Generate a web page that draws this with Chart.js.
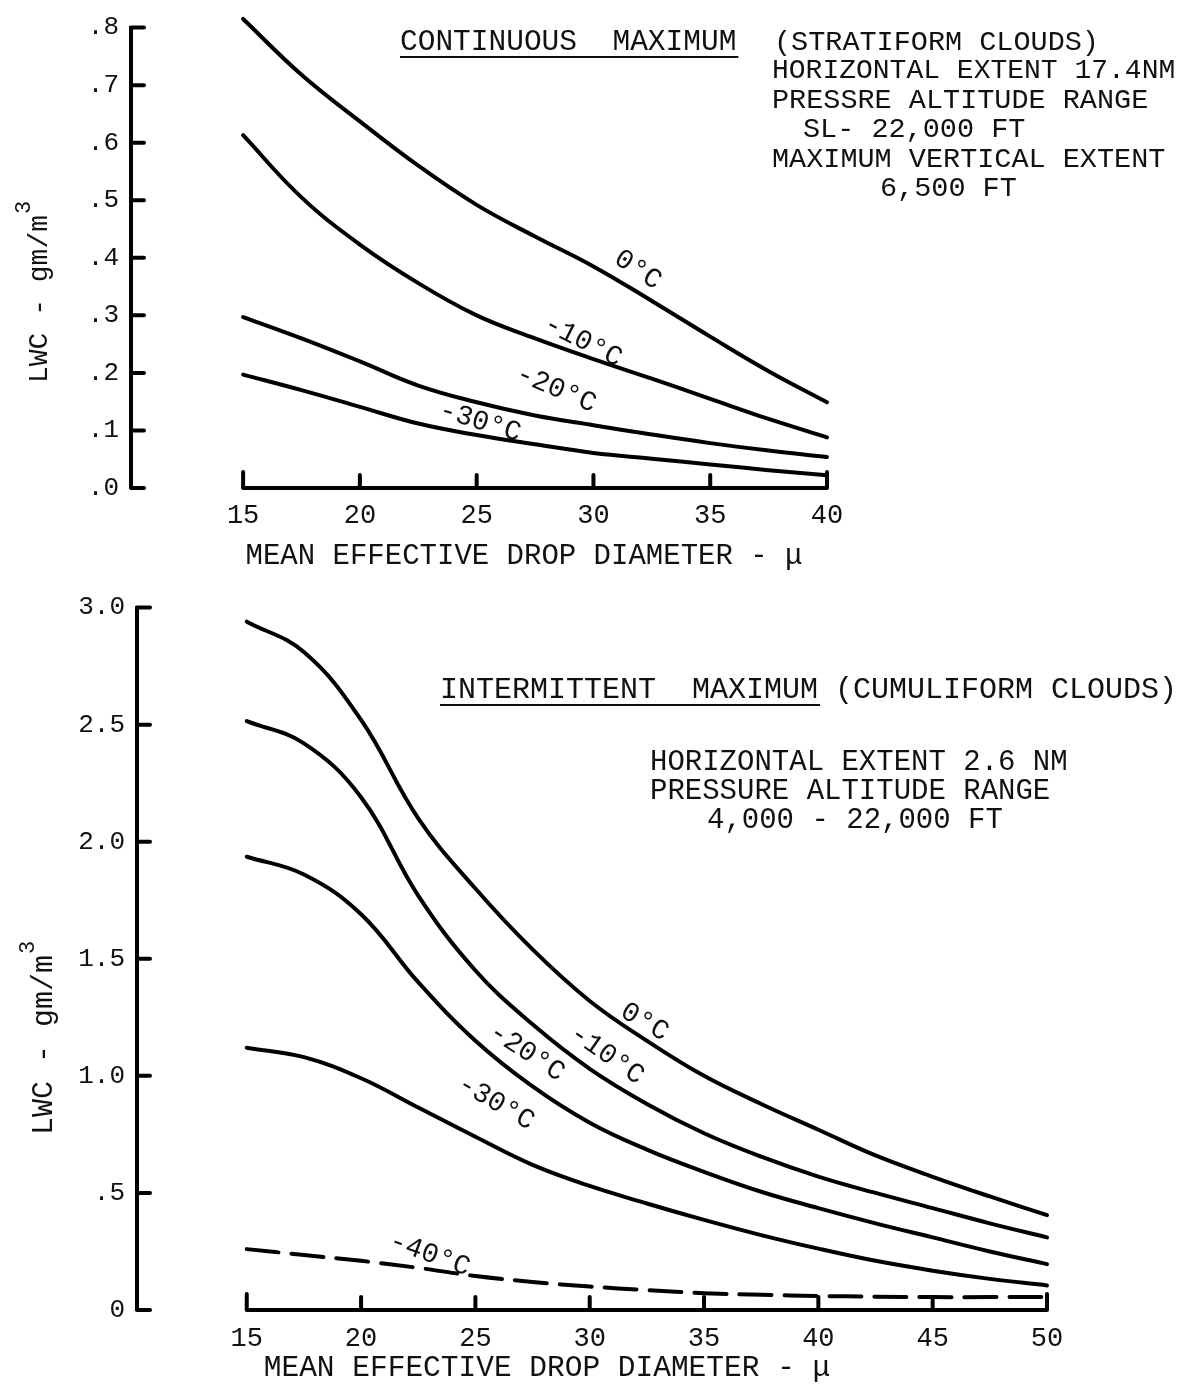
<!DOCTYPE html>
<html>
<head>
<meta charset="utf-8">
<title>LWC vs mean effective drop diameter</title>
<script src="https://cdn.jsdelivr.net/npm/chart.js@4.4.0/dist/chart.umd.min.js"></script>
<style>
  html, body { margin: 0; padding: 0; background: #fff; }
  #wrap { position: relative; width: 1204px; height: 1385px; overflow: hidden; }
  #contChart { position: absolute; left: 0; top: 0; }
  #intChart { position: absolute; left: 0; top: 580px; }
</style>
</head>
<body>
<div id="wrap">
  <canvas id="contChart" width="1204" height="580"></canvas>
  <canvas id="intChart" width="1204" height="805"></canvas>
</div>
<script>
// ---- data: continuous maximum (stratiform clouds) ----
const contDiameters = [15, 17.5, 20, 22.5, 25, 27.5, 30, 32.5, 35, 37.5, 40];
const cont0   = [0.815, 0.718, 0.637, 0.56, 0.492, 0.437, 0.385, 0.325, 0.263, 0.203, 0.149];
const contM10 = [0.613, 0.505, 0.423, 0.356, 0.30, 0.26, 0.224, 0.19, 0.155, 0.12, 0.088];
const contM20 = [0.297, 0.26, 0.22, 0.178, 0.149, 0.126, 0.109, 0.093, 0.078, 0.065, 0.054];
const contM30 = [0.197, 0.17, 0.141, 0.112, 0.092, 0.076, 0.061, 0.051, 0.041, 0.031, 0.022];
const contXTicks = [15, 20, 25, 30, 35, 40];
const contYTicks = [0, 0.1, 0.2, 0.3, 0.4, 0.5, 0.6, 0.7, 0.8];
const contYLabels = ['.0', '.1', '.2', '.3', '.4', '.5', '.6', '.7', '.8'];

// ---- data: intermittent maximum (cumuliform clouds) ----
const intDiameters = [15, 17.5, 20, 22.5, 25, 27.5, 30, 32.5, 35, 37.5, 40, 42.5, 45, 47.5, 50];
const int0   = [2.94, 2.81, 2.52, 2.10, 1.80, 1.54, 1.32, 1.15, 1.0, 0.88, 0.77, 0.66, 0.569, 0.485, 0.405];
const intM10 = [2.515, 2.42, 2.19, 1.77, 1.45, 1.22, 1.03, 0.88, 0.755, 0.655, 0.57, 0.50, 0.435, 0.37, 0.31];
const intM20 = [1.936, 1.86, 1.69, 1.40, 1.15, 0.955, 0.80, 0.685, 0.59, 0.505, 0.435, 0.37, 0.31, 0.25, 0.196];
const intM30 = [1.12, 1.08, 0.99, 0.865, 0.74, 0.62, 0.53, 0.455, 0.385, 0.32, 0.262, 0.21, 0.168, 0.133, 0.105];
const intM40 = [0.26, 0.235, 0.21, 0.18, 0.145, 0.12, 0.10, 0.085, 0.072, 0.065, 0.06, 0.057, 0.055, 0.055, 0.055];
const intXTicks = [15, 20, 25, 30, 35, 40, 45, 50];
const intYTicks = [0, 0.5, 1.0, 1.5, 2.0, 2.5, 3.0];
const intYLabels = ['0', '.5', '1.0', '1.5', '2.0', '2.5', '3.0'];

const X_MIN = 10.2;
const FONT = '"Liberation Mono", "Courier New", monospace';
const INK = '#111';

const pairs = (xs, ys) => xs.map((x, i) => ({ x: x, y: ys[i] }));

// x axis drawn as a bracket between first and last tick, ticks pointing inward
const bracketAxes = {
  id: 'bracketAxes',
  afterDraw(chart, args, opts) {
    const { ctx, chartArea } = chart;
    const x = chart.scales.x, y = chart.scales.y;
    const y0 = y.getPixelForValue(0);
    const xs = opts.xTicks;
    const xa = x.getPixelForValue(xs[0]);
    const xb = x.getPixelForValue(xs[xs.length - 1]);
    ctx.save();
    ctx.strokeStyle = '#000';
    ctx.lineWidth = 4;
    ctx.lineCap = 'round';
    ctx.lineJoin = 'round';
    ctx.beginPath();
    ctx.moveTo(xa, y0 - opts.hook);
    ctx.lineTo(xa, y0);
    ctx.lineTo(xb, y0);
    ctx.lineTo(xb, y0 - opts.hook);
    xs.slice(1, -1).forEach(v => {
      const px = x.getPixelForValue(v);
      ctx.moveTo(px, y0);
      ctx.lineTo(px, y0 - opts.tick);
    });
    opts.yTicks.forEach(v => {
      const py = y.getPixelForValue(v);
      ctx.moveTo(chartArea.left, py);
      ctx.lineTo(chartArea.left + opts.tick, py);
    });
    ctx.stroke();
    ctx.restore();
  }
};

// temperature labels written along the curves
const curveLabels = {
  id: 'curveLabels',
  afterDatasetsDraw(chart, args, opts) {
    const { ctx } = chart;
    ctx.save();
    ctx.fillStyle = INK;
    ctx.font = '28px ' + FONT;
    ctx.textAlign = 'center';
    ctx.textBaseline = 'middle';
    opts.items.forEach(it => {
      ctx.save();
      ctx.translate(chart.scales.x.getPixelForValue(it.x), chart.scales.y.getPixelForValue(it.y));
      ctx.rotate(it.rot * Math.PI / 180);
      ctx.fillText(it.text, 0, 0);
      ctx.restore();
    });
    ctx.restore();
  }
};

// notes, axis titles
const panelText = {
  id: 'panelText',
  afterDraw(chart, args, opts) {
    const { ctx } = chart;
    ctx.save();
    ctx.fillStyle = INK;
    ctx.strokeStyle = INK;
    ctx.textBaseline = 'middle';
    ctx.textAlign = 'left';
    opts.notes.forEach(n => {
      ctx.font = n.size + 'px ' + FONT;
      ctx.fillText(n.text, n.x, n.y);
      if (n.underline) {
        const w = ctx.measureText(n.text).width;
        ctx.lineWidth = 2;
        ctx.beginPath();
        ctx.moveTo(n.x, n.y + 15);
        ctx.lineTo(n.x + w + 2, n.y + 15);
        ctx.stroke();
      }
    });
    // x title
    ctx.textAlign = 'center';
    ctx.font = opts.xTitle.size + 'px ' + FONT;
    ctx.fillText('MEAN EFFECTIVE DROP DIAMETER - \u03BC', opts.xTitle.x, opts.xTitle.y);
    // y title with superscript 3
    const main = 'LWC - gm/m';
    ctx.save();
    ctx.translate(opts.yTitle.x, opts.yTitle.y);
    ctx.rotate(-Math.PI / 2);
    ctx.textAlign = 'left';
    ctx.font = opts.yTitle.size + 'px ' + FONT;
    const wMain = ctx.measureText(main).width;
    const start = -(wMain + 14) / 2;
    ctx.fillText(main, start, 0);
    ctx.font = '22px ' + FONT;
    ctx.fillText('3', start + wMain + 1, -16);
    ctx.restore();
    ctx.restore();
  }
};

function lineSet(label, xs, ys, dash) {
  return {
    label: label,
    data: pairs(xs, ys),
    borderColor: '#000',
    borderWidth: 4,
    borderDash: dash || [],
    pointRadius: 0,
    tension: 0.4,
    borderCapStyle: 'round',
    clip: false
  };
}

function buildOptions(cfg) {
  return {
    responsive: false,
    animation: false,
    layout: { padding: cfg.padding },
    plugins: {
      legend: { display: false },
      tooltip: { enabled: false },
      bracketAxes: { xTicks: cfg.xTicks, yTicks: cfg.yTicks, tick: 13, hook: 16 },
      curveLabels: { items: cfg.labels },
      panelText: { notes: cfg.notes, xTitle: cfg.xTitle, yTitle: cfg.yTitle }
    },
    scales: {
      x: {
        type: 'linear',
        min: X_MIN,
        max: cfg.xTicks[cfg.xTicks.length - 1],
        afterFit: s => { s.height = cfg.xAxisHeight; },
        afterBuildTicks: s => { s.ticks = cfg.xTicks.map(v => ({ value: v })); },
        grid: { display: false, drawTicks: false },
        border: { display: false },
        ticks: {
          autoSkip: false, maxRotation: 0, padding: cfg.xTickPad, color: INK,
          font: { family: FONT, size: 27 },
          callback: v => String(v)
        }
      },
      y: {
        min: 0,
        max: cfg.yTicks[cfg.yTicks.length - 1],
        afterFit: s => { s.width = cfg.yAxisWidth; },
        afterBuildTicks: s => { s.ticks = cfg.yTicks.map(v => ({ value: v })); },
        grid: { display: false, drawTicks: false },
        border: { display: true, width: 4, color: '#000' },
        ticks: {
          padding: 12, color: INK,
          font: { family: FONT, size: 26 },
          callback: (v, i) => cfg.yLabels[i]
        }
      }
    }
  };
}

new Chart(document.getElementById('contChart'), {
  type: 'line',
  data: {
    datasets: [
      lineSet('0°C', contDiameters, cont0),
      lineSet('-10°C', contDiameters, contM10),
      lineSet('-20°C', contDiameters, contM20),
      lineSet('-30°C', contDiameters, contM30)
    ]
  },
  options: buildOptions({
    padding: { left: 0, top: 17, right: 377, bottom: 0 },
    xAxisHeight: 92, xTickPad: 12, yAxisWidth: 131,
    xTicks: contXTicks, yTicks: contYTicks, yLabels: contYLabels,
    labels: [
      { text: '0°C', x: 31.9, y: 0.379, rot: 33 },
      { text: '-10°C', x: 29.55, y: 0.255, rot: 27 },
      { text: '-20°C', x: 28.4, y: 0.172, rot: 23 },
      { text: '-30°C', x: 25.15, y: 0.115, rot: 17 }
    ],
    notes: [
      { text: 'CONTINUOUS  MAXIMUM', x: 400, y: 42, size: 29.5, underline: true },
      { text: '(STRATIFORM CLOUDS)', x: 774, y: 42, size: 28.5 },
      { text: 'HORIZONTAL EXTENT 17.4NM', x: 772, y: 71, size: 28 },
      { text: 'PRESSRE ALTITUDE RANGE', x: 772, y: 100, size: 28.5 },
      { text: 'SL- 22,000 FT', x: 803, y: 129, size: 28.5 },
      { text: 'MAXIMUM VERTICAL EXTENT', x: 772, y: 159, size: 28.5 },
      { text: '6,500 FT', x: 880, y: 188, size: 28.5 }
    ],
    xTitle: { x: 524, y: 556, size: 29 },
    yTitle: { x: 40, y: 292, size: 28 }
  }),
  plugins: [bracketAxes, curveLabels, panelText]
});

new Chart(document.getElementById('intChart'), {
  type: 'line',
  data: {
    datasets: [
      lineSet('0°C', intDiameters, int0),
      lineSet('-10°C', intDiameters, intM10),
      lineSet('-20°C', intDiameters, intM20),
      lineSet('-30°C', intDiameters, intM30),
      lineSet('-40°C', intDiameters, intM40, [32, 13])
    ]
  },
  options: buildOptions({
    padding: { left: 0, top: 23, right: 157, bottom: 0 },
    xAxisHeight: 75, xTickPad: 13, yAxisWidth: 137,
    xTicks: intXTicks, yTicks: intYTicks, yLabels: intYLabels,
    labels: [
      { text: '0°C', x: 32.4, y: 1.23, rot: 30 },
      { text: '-10°C', x: 30.75, y: 1.09, rot: 35 },
      { text: '-20°C', x: 27.25, y: 1.10, rot: 33 },
      { text: '-30°C', x: 25.9, y: 0.885, rot: 30 },
      { text: '-40°C', x: 23.0, y: 0.237, rot: 20 }
    ],
    notes: [
      { text: 'INTERMITTENT  MAXIMUM', x: 440, y: 110, size: 30, underline: true },
      { text: '(CUMULIFORM CLOUDS)', x: 835, y: 110, size: 30 },
      { text: 'HORIZONTAL EXTENT 2.6 NM', x: 650, y: 182, size: 29 },
      { text: 'PRESSURE ALTITUDE RANGE', x: 650, y: 211, size: 29 },
      { text: '4,000 - 22,000 FT', x: 707, y: 240, size: 29 }
    ],
    xTitle: { x: 547, y: 788, size: 29.5 },
    yTitle: { x: 44, y: 458, size: 30 }
  }),
  plugins: [bracketAxes, curveLabels, panelText]
});
</script>
</body>
</html>
